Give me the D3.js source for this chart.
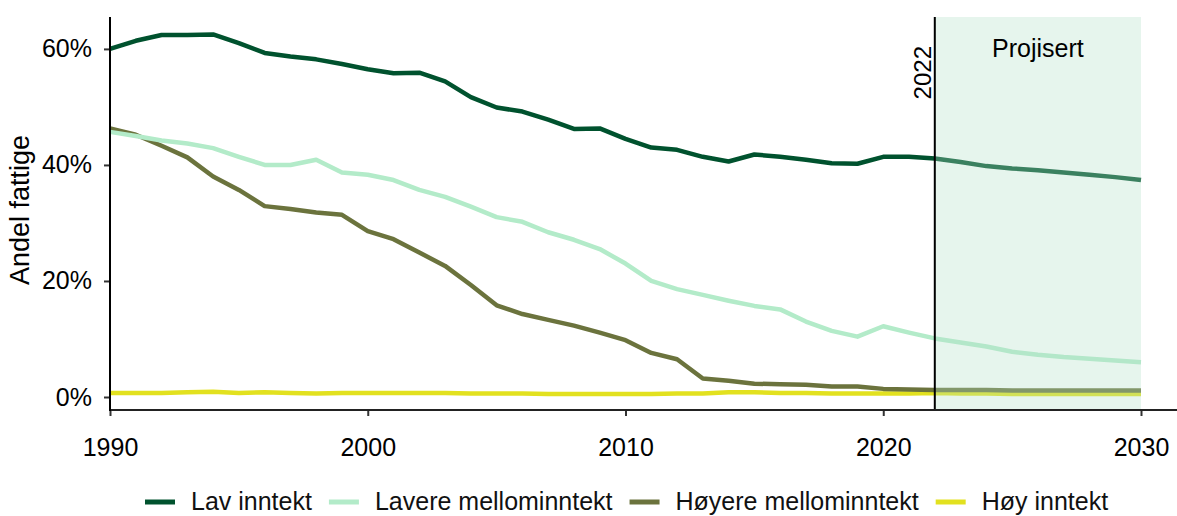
<!DOCTYPE html>
<html lang="no">
<head>
  <meta charset="UTF-8">
  <title>Andel fattige</title>
  <script src="https://d3js.org/d3.v7.min.js"></script>
  <style>
    body { margin: 0; background: #fff; }
    svg { display: block; font-family: "Liberation Sans", Arial, sans-serif; }
    .tick text { font-size: 25px; fill: #000; }
    .legend text { font-size: 25px; fill: #111; }
  </style>
</head>
<body>
  <svg id="chart"></svg>
  <script>
    // data
    const years = [1990, 1991, 1992, 1993, 1994, 1995, 1996, 1997, 1998, 1999,
                   2000, 2001, 2002, 2003, 2004, 2005, 2006, 2007, 2008, 2009,
                   2010, 2011, 2012, 2013, 2014, 2015, 2016, 2017, 2018, 2019,
                   2020, 2021, 2022, 2023, 2024, 2025, 2026, 2027, 2028, 2029, 2030];

    const lavInntekt = [60.0, 61.4, 62.4, 62.4, 62.5, 61.0, 59.3, 58.7, 58.2, 57.4,
                        56.5, 55.8, 55.9, 54.4, 51.7, 49.9, 49.2, 47.8, 46.2, 46.3,
                        44.5, 43.0, 42.6, 41.4, 40.6, 41.8, 41.4, 40.9, 40.3, 40.2,
                        41.4, 41.4, 41.1, 40.5, 39.8, 39.4, 39.1, 38.7, 38.3, 37.9, 37.4];

    const lavereMellom = [45.7, 45.0, 44.2, 43.7, 42.9, 41.4, 40.0, 40.0, 40.9, 38.7,
                          38.3, 37.4, 35.7, 34.5, 32.8, 31.0, 30.2, 28.4, 27.1, 25.5,
                          23.0, 20.0, 18.6, 17.6, 16.6, 15.7, 15.1, 13.0, 11.4, 10.4,
                          12.2, 11.1, 10.1, 9.4, 8.7, 7.8, 7.3, 6.9, 6.6, 6.3, 6.0];

    const hoyereMellom = [46.3, 45.2, 43.3, 41.3, 38.0, 35.7, 32.9, 32.4, 31.8, 31.4,
                          28.6, 27.2, 24.9, 22.6, 19.3, 15.8, 14.3, 13.3, 12.3, 11.1,
                          9.8, 7.6, 6.5, 3.2, 2.8, 2.3, 2.2, 2.1, 1.8, 1.8,
                          1.4, 1.3, 1.2, 1.2, 1.2, 1.1, 1.1, 1.1, 1.1, 1.1, 1.1];

    const hoyInntekt = [0.7, 0.7, 0.7, 0.8, 0.9, 0.7, 0.8, 0.7, 0.6, 0.7,
                        0.7, 0.7, 0.7, 0.7, 0.6, 0.6, 0.6, 0.5, 0.5, 0.5,
                        0.5, 0.5, 0.6, 0.6, 0.8, 0.8, 0.7, 0.7, 0.6, 0.6,
                        0.6, 0.6, 0.7, 0.6, 0.6, 0.5, 0.5, 0.5, 0.5, 0.5, 0.5];

    const seriesNames = ["Lav inntekt", "Lavere mellominntekt", "Høyere mellominntekt", "Høy inntekt"];
    const seriesColors = ["#00522e", "#b3ebc9", "#6b733d", "#e2e11f"];
    const seriesValues = [lavInntekt, lavereMellom, hoyereMellom, hoyInntekt];

    const yTicks = [0, 20, 40, 60];
    const xTicks = [1990, 2000, 2010, 2020, 2030];
    const cutYear = 2022;
    const projLabel = "Projisert";

    const width = 1177, height = 516;
    const mLeft = 110, mRight = 1141, mTop = 17, mBottom = 410;

    const svg = d3.select("#chart").attr("width", width).attr("height", height);

    const x = d3.scaleLinear().domain([1990, 2030]).range([mLeft, mRight]);
    const y = d3.scaleLinear().domain([-2.24, 65.5]).range([mBottom, mTop]);

    // lines
    const line = d3.line()
      .x((d, i) => x(years[i]))
      .y(d => y(d));

    // draw bottom series first so Lav inntekt ends on top
    [3, 2, 1, 0].forEach(k => {
      svg.append("path")
        .datum(seriesValues[k])
        .attr("fill", "none")
        .attr("stroke", seriesColors[k])
        .attr("stroke-width", 4.5)
        .attr("stroke-linejoin", "round")
        .attr("d", line);
    });

    // projection band
    svg.append("rect")
      .attr("x", x(cutYear))
      .attr("y", mTop)
      .attr("width", x(2030) - x(cutYear))
      .attr("height", mBottom - mTop)
      .attr("fill", "#b2e0c8")
      .attr("fill-opacity", 0.33);

    svg.append("text")
      .attr("x", (x(cutYear) + x(2030)) / 2)
      .attr("y", 57)
      .attr("text-anchor", "middle")
      .style("font-size", "25px")
      .text(projLabel);

    svg.append("line")
      .attr("x1", x(cutYear)).attr("x2", x(cutYear))
      .attr("y1", mTop).attr("y2", mBottom)
      .attr("stroke", "#000").attr("stroke-width", 2);

    svg.append("text")
      .attr("transform", `translate(${x(cutYear) - 4},46) rotate(-90)`)
      .attr("text-anchor", "end")
      .style("font-size", "24px")
      .text(String(cutYear));

    // axes
    const yAxis = svg.append("g")
      .attr("transform", `translate(${mLeft},0)`)
      .call(d3.axisLeft(y).tickValues(yTicks).tickFormat(d => d + "%").tickSize(6).tickPadding(12));
    yAxis.select(".domain").remove();
    yAxis.selectAll(".tick line").attr("stroke", "#333").attr("stroke-width", 2);

    const xAxis = svg.append("g")
      .attr("transform", `translate(0,${mBottom})`)
      .call(d3.axisBottom(x).tickValues(xTicks).tickFormat(d3.format("d")).tickSize(6).tickPadding(22));
    xAxis.select(".domain").remove();
    xAxis.selectAll(".tick line").attr("stroke", "#333").attr("stroke-width", 2);

    svg.append("line")
      .attr("x1", mLeft).attr("x2", width)
      .attr("y1", mBottom).attr("y2", mBottom)
      .attr("stroke", "#222").attr("stroke-width", 2);
    svg.append("line")
      .attr("x1", mLeft).attr("x2", mLeft)
      .attr("y1", mTop).attr("y2", mBottom + 1)
      .attr("stroke", "#000").attr("stroke-width", 2);

    svg.append("text")
      .attr("transform", `translate(29,210) rotate(-90)`)
      .attr("text-anchor", "middle")
      .style("font-size", "27px")
      .text("Andel fattige");

    // legend
    const legend = svg.append("g").attr("class", "legend");
    let lx = 145;
    seriesNames.forEach((name, i) => {
      legend.append("line")
        .attr("x1", lx).attr("x2", lx + 30)
        .attr("y1", 502).attr("y2", 502)
        .attr("stroke", seriesColors[i])
        .attr("stroke-width", 5);
      const t = legend.append("text")
        .attr("x", lx + 46)
        .attr("y", 510)
        .text(name);
      lx += 46 + t.node().getComputedTextLength() + 17;
    });
  </script>
</body>
</html>
